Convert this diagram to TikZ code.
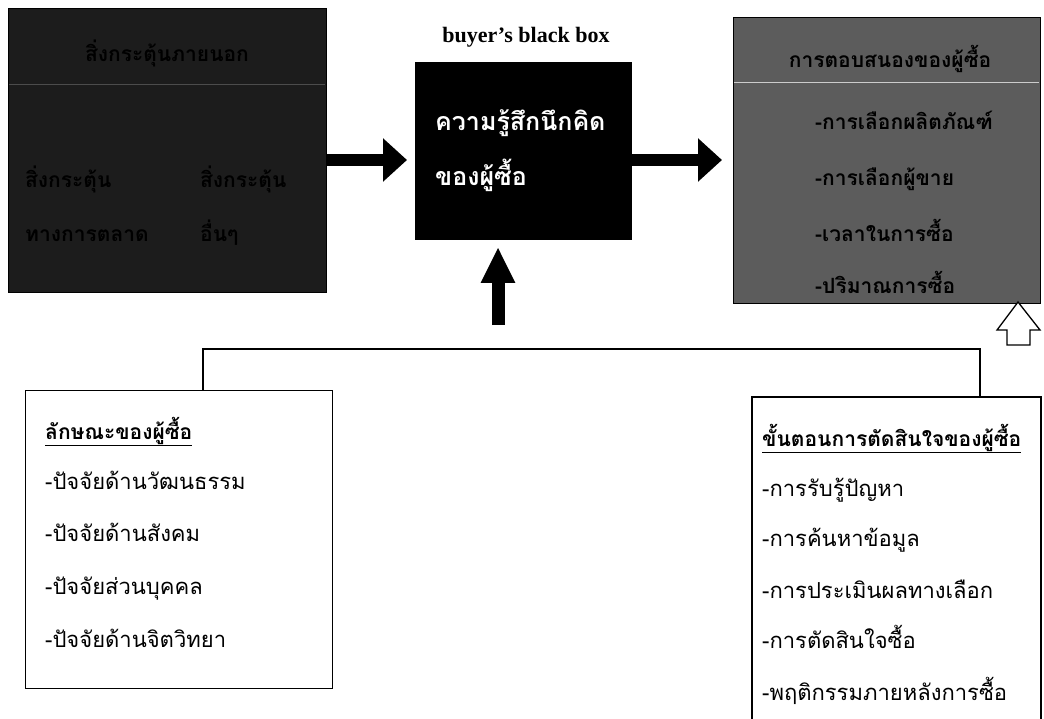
\documentclass[tikz,border=0pt]{standalone}
\usepackage{fontspec}
\setmainfont{Liberation Serif}
\newfontfamily\thai[Script=Thai]{Loma}
\usetikzlibrary{arrows.meta}
\definecolor{darkfill}{HTML}{1C1C1C}
\definecolor{grayfill}{HTML}{5C5C5C}
\tikzset{
  box/.style={rectangle, draw=black, line width=1.2pt, inner sep=0pt, anchor=north west},
  thaitxt/.style={font=\thai\fontsize{22}{24}\selectfont, anchor=base west, inner sep=0pt},
  thaihead/.style={font=\thai\bfseries\fontsize{21}{24}\selectfont, anchor=base west, inner sep=0pt},
  darktxt/.style={font=\thai\bfseries\fontsize{21}{24}\selectfont, inner sep=0pt, text=black, anchor=base west},
  whitetxt/.style={font=\thai\bfseries\fontsize{25}{28}\selectfont, anchor=base west, inner sep=0pt, text=white},
  conn/.style={line width=1.5pt, black},
  blockarrow/.style={line width=12pt, -{Triangle[length=24pt,width=42pt]}},
  hollow/.style={draw=black, line width=1.3pt, fill=white, line join=miter}
}
\begin{document}
\begin{tikzpicture}[x=1pt,y=-1pt]
\useasboundingbox[fill=white] (0,0) rectangle (1044,719);

% left stimulus box
\node[box, fill=darkfill, minimum width=318pt, minimum height=284pt] (stim) at (8,8) {};
\draw[gray!60!black, line width=1pt] (9,85) -- (325,85);
\node[darktxt, anchor=base] (stimh) at (167,62) {สิ่งกระตุ้นภายนอก};
\node[darktxt] (stim1a) at (25,188) {สิ่งกระตุ้น};
\node[darktxt] (stim1b) at (200,188) {สิ่งกระตุ้น};
\node[darktxt] (stim2a) at (25,242) {ทางการตลาด};
\node[darktxt] (stim2b) at (200,242) {อื่นๆ};

% black box
\node[font=\bfseries\fontsize{22}{24}\selectfont, inner sep=0pt] (bbt) at (526,37) {buyer's black box};
\node[box, fill=black, minimum width=216pt, minimum height=177pt] (bb) at (415,62) {};
\node[whitetxt] (bb1) at (435,131) {ความรู้สึกนึกคิด};
\node[whitetxt] (bb2) at (435,186) {ของผู้ซื้อ};

% right response box
\node[box, fill=grayfill, minimum width=307pt, minimum height=286pt] (resp) at (733,17) {};
\draw[gray!40, line width=1pt] (734,83) -- (1039,83);
\node[darktxt, anchor=base] (resph) at (890,68) {การตอบสนองของผู้ซื้อ};
\node[darktxt] (resp1) at (815,130) {-การเลือกผลิตภัณฑ์};
\node[darktxt] (resp2) at (815,186) {-การเลือกผู้ขาย};
\node[darktxt] (resp3) at (815,242) {-เวลาในการซื้อ};
\node[darktxt] (resp4) at (815,294) {-ปริมาณการซื้อ};

% block arrows
\draw[blockarrow] (stim.east |- 0,160) -- (407,160) coordinate (a1e);
\draw[blockarrow] (bb.east |- 0,160) -- (722,160) coordinate (a2e);
\coordinate (a3s) at (498,325);
\coordinate (a3e) at (498,247);
\draw[line width=13pt, -{Triangle[length=36pt,width=32pt]}] (a3s) -- (a3e);

% hollow up arrow
\draw[hollow] (1018,302) -- (1040,330) -- (1030,330) -- (1030,345) -- (1007,345) -- (1007,330) -- (997,330) -- cycle;

% bottom-left box
\node[box, minimum width=307pt, minimum height=298pt] (chars) at (25,390) {};
\node[thaihead] (ch0) at (45,439) {\underline{ลักษณะของผู้ซื้อ}};
\node[thaitxt] (ch1) at (45,489) {-ปัจจัยด้านวัฒนธรรม};
\node[thaitxt] (ch2) at (45,541) {-ปัจจัยด้านสังคม};
\node[thaitxt] (ch3) at (45,594) {-ปัจจัยส่วนบุคคล};
\node[thaitxt] (ch4) at (45,647) {-ปัจจัยด้านจิตวิทยา};

% bottom-right box (bottom edge off the page)
\coordinate (dbl) at (752,719);
\coordinate (dtl) at (752,397);
\coordinate (dtr) at (1041,397);
\coordinate (dbr) at (1041,719);
\draw[line width=1.2pt] (dbl) -- (dtl) -- (dtr) -- (dbr);
\node[thaihead] (d0) at (762,446) {\underline{ขั้นตอนการตัดสินใจของผู้ซื้อ}};
\node[thaitxt] (d1) at (762,496) {-การรับรู้ปัญหา};
\node[thaitxt] (d2) at (762,546) {-การค้นหาข้อมูล};
\node[thaitxt] (d3) at (762,598) {-การประเมินผลทางเลือก};
\node[thaitxt] (d4) at (762,648) {-การตัดสินใจซื้อ};
\node[thaitxt] (d5) at (762,700) {-พฤติกรรมภายหลังการซื้อ};

% connector
\coordinate (ctop) at (203,390);
\coordinate (dtop) at (980,397);
\draw[conn] (ctop) |- (dtop |- 0,349) -- (dtop);
\end{tikzpicture}
\end{document}
